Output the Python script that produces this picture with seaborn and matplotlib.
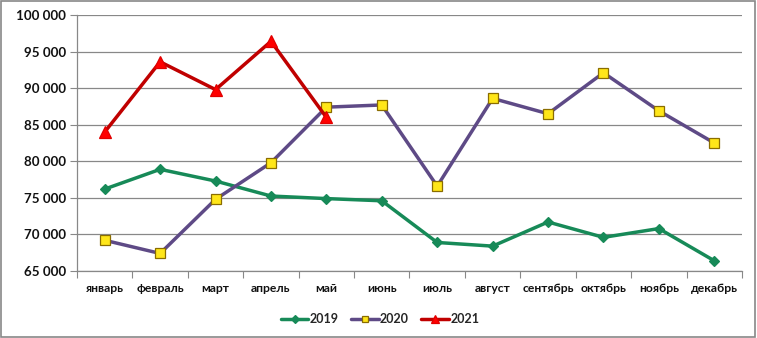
import numpy as np
import pandas as pd
import matplotlib
matplotlib.use("Agg")
import matplotlib.pyplot as plt
import seaborn as sns
from matplotlib.ticker import FuncFormatter, FixedLocator

months = ["январь", "февраль", "март", "апрель", "май", "июнь", "июль",
          "август", "сентябрь", "октябрь", "ноябрь", "декабрь"]
v2019 = [76200, 78900, 77300, 75250, 74900, 74600, 68900, 68400, 71700, 69600, 70800, 66400]
v2020 = [69200, 67400, 74800, 79800, 87400, 87700, 76600, 88600, 86500, 92100, 86900, 82500]
v2021 = [84000, 93600, 89800, 96400, 86000]
yticks = [65000, 70000, 75000, 80000, 85000, 90000, 95000, 100000]

sns.set_theme(style="white")
plt.rcParams['font.family'] = ['Lato', 'DejaVu Sans']

fig = plt.figure(figsize=(7.57, 3.38), dpi=100)
fig.patch.set_facecolor("white")
ax = fig.add_axes([77/757, 1-271/338, (742-77)/757, (271-15)/338])

series = [
    ("2019", v2019, dict(color="#178a58", marker="D", markersize=5, mfc="#178a58", mec="#178a58")),
    ("2020", v2020, dict(color="#5e4a86", marker="s", markersize=6.5, mfc="#ffe619", mec="#8a6d00")),
    ("2021", v2021, dict(color="#c00000", marker="^", markersize=8, mfc="#ff0000", mec="#e00000")),
]
for name, vals, st in series:
    df = pd.DataFrame({"x": np.arange(len(vals)), "y": vals})
    sns.lineplot(data=df, x="x", y="y", ax=ax, color=st["color"], linewidth=2.5,
                 marker=st["marker"], markersize=st["markersize"],
                 markerfacecolor=st["mfc"], markeredgecolor=st["mec"], markeredgewidth=0.9,
                 label=name)

ax.set_xlim(-0.5, 11.5)
ax.set_ylim(65000, 100000)
ax.set_yticks(yticks)
ax.yaxis.set_major_formatter(FuncFormatter(lambda v, p: f"{int(v):,}".replace(",", " ")))
ax.set_xticks(range(12))
ax.set_xticklabels(months)
ax.xaxis.set_minor_locator(FixedLocator(np.arange(-0.5, 12, 1)))
ax.tick_params(axis="x", which="major", length=0, pad=9, labelsize=8.7)
ax.tick_params(axis="x", which="minor", length=5, width=0.8, color="#888888", direction="out", bottom=True)
ax.tick_params(axis="y", which="major", length=5, width=0.8, color="#888888", direction="out", left=True, labelsize=9.6, pad=3)
for lab in ax.get_xticklabels() + ax.get_yticklabels():
    lab.set_fontweight("bold")
    lab.set_color("#111111")
ax.set_xlabel("")
ax.set_ylabel("")
ax.grid(axis="y", color="#888888", linewidth=0.9)
ax.set_axisbelow(True)
for s in ["top", "right"]:
    ax.spines[s].set_visible(False)
for s in ["left", "bottom"]:
    ax.spines[s].set_color("#888888")
    ax.spines[s].set_linewidth(0.9)

leg = ax.legend(loc="center", bbox_to_anchor=(380/757, 1-319/338), bbox_transform=fig.transFigure,
                ncol=3, frameon=False, handlelength=2.2, columnspacing=1.0, handletextpad=0.1,
                markerscale=0.75, prop={"weight": "bold", "size": 9})

fig.add_artist(plt.Rectangle((0.001, 0.002), 0.997, 0.995, transform=fig.transFigure,
                             fill=False, edgecolor="#888888", linewidth=1.2))

fig.savefig("out.png", dpi=100)
